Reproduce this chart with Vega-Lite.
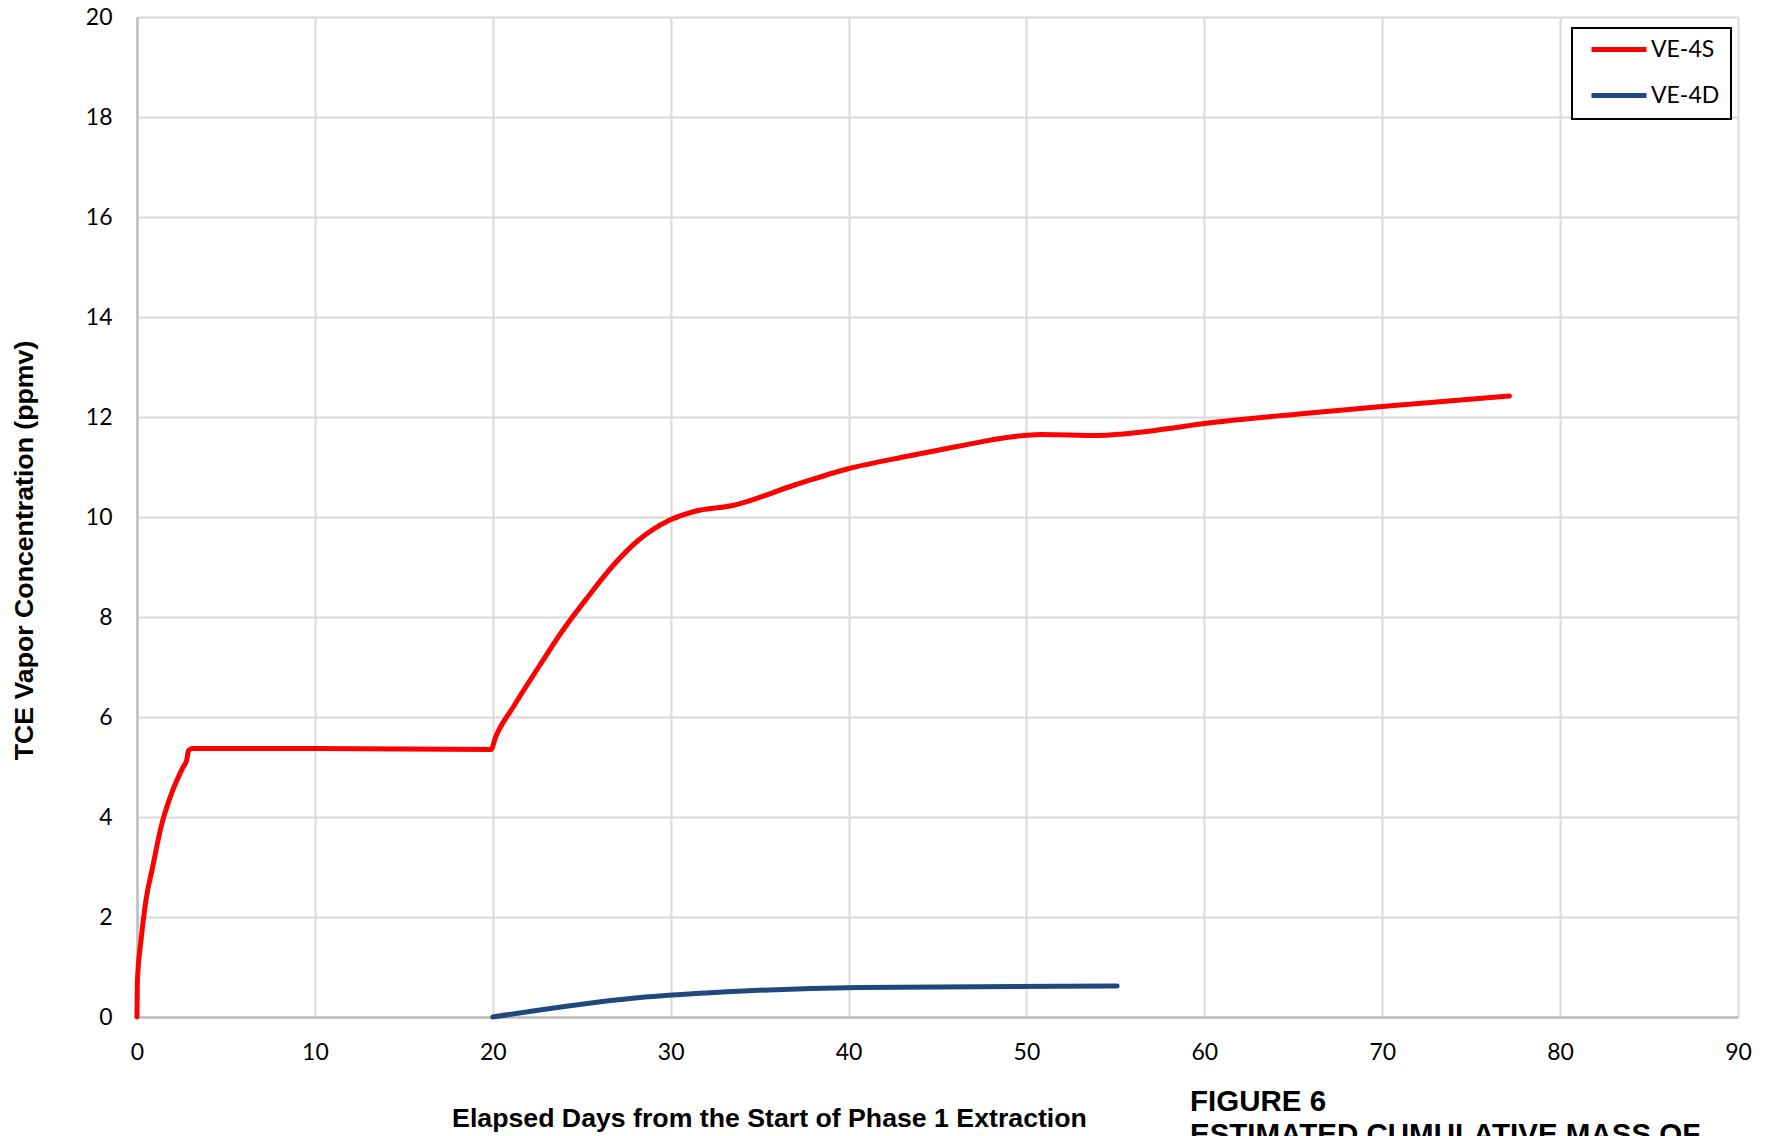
{
  "$schema": "https://vega.github.io/schema/vega-lite/v6.json",
  "width": 1601,
  "height": 1000,
  "autosize": {"type": "none"},
  "padding": {"left": 137, "top": 17, "right": 37, "bottom": 119},
  "background": "white",
  "title": {
    "text": ["FIGURE 6", "ESTIMATED CUMULATIVE MASS OF"],
    "orient": "bottom",
    "anchor": "start",
    "frame": "group",
    "dx": 1053,
    "offset": -44,
    "baseline": "top",
    "font": "Liberation Sans",
    "fontSize": 29.5,
    "fontWeight": "bold",
    "lineHeight": 33,
    "color": "black"
  },
  "data": {
    "values": [
      {"series": "VE-4S", "day": 0, "tce": 0},
      {"series": "VE-4S", "day": 0.02, "tce": 0.7},
      {"series": "VE-4S", "day": 0.23, "tce": 1.55},
      {"series": "VE-4S", "day": 0.5, "tce": 2.33},
      {"series": "VE-4S", "day": 0.88, "tce": 3.0},
      {"series": "VE-4S", "day": 1.35, "tce": 3.8},
      {"series": "VE-4S", "day": 1.9, "tce": 4.43},
      {"series": "VE-4S", "day": 2.55, "tce": 4.97},
      {"series": "VE-4S", "day": 2.8, "tce": 5.15},
      {"series": "VE-4S", "day": 2.9, "tce": 5.33},
      {"series": "VE-4S", "day": 3.1, "tce": 5.37},
      {"series": "VE-4S", "day": 10, "tce": 5.37},
      {"series": "VE-4S", "day": 19.9, "tce": 5.35},
      {"series": "VE-4S", "day": 20.15, "tce": 5.59},
      {"series": "VE-4S", "day": 21.15, "tce": 6.2},
      {"series": "VE-4S", "day": 22.58, "tce": 7.0},
      {"series": "VE-4S", "day": 23.87, "tce": 7.7},
      {"series": "VE-4S", "day": 25.3, "tce": 8.38},
      {"series": "VE-4S", "day": 26.74, "tce": 9.02},
      {"series": "VE-4S", "day": 28.17, "tce": 9.53},
      {"series": "VE-4S", "day": 29.9, "tce": 9.93},
      {"series": "VE-4S", "day": 31.33, "tce": 10.11},
      {"series": "VE-4S", "day": 33.48, "tce": 10.23},
      {"series": "VE-4S", "day": 37.06, "tce": 10.65},
      {"series": "VE-4S", "day": 39.93, "tce": 10.96},
      {"series": "VE-4S", "day": 43.37, "tce": 11.22},
      {"series": "VE-4S", "day": 46.24, "tce": 11.42},
      {"series": "VE-4S", "day": 49.1, "tce": 11.6},
      {"series": "VE-4S", "day": 50.83, "tce": 11.65},
      {"series": "VE-4S", "day": 54, "tce": 11.63},
      {"series": "VE-4S", "day": 55.4, "tce": 11.66},
      {"series": "VE-4S", "day": 57.8, "tce": 11.76},
      {"series": "VE-4S", "day": 60, "tce": 11.87},
      {"series": "VE-4S", "day": 65.3, "tce": 12.06},
      {"series": "VE-4S", "day": 70, "tce": 12.21},
      {"series": "VE-4S", "day": 77.15, "tce": 12.42},
      {"series": "VE-4D", "day": 20, "tce": 0},
      {"series": "VE-4D", "day": 28, "tce": 0.38},
      {"series": "VE-4D", "day": 34.1, "tce": 0.52},
      {"series": "VE-4D", "day": 40.6, "tce": 0.59},
      {"series": "VE-4D", "day": 55.1, "tce": 0.62}
    ]
  },
  "mark": {"type": "line", "strokeWidth": 5, "interpolate": "monotone", "strokeCap": "round", "strokeJoin": "round"},
  "encoding": {
    "x": {
      "field": "day",
      "type": "quantitative",
      "scale": {"domain": [0, 90], "nice": false, "zero": false},
      "axis": {
        "values": [0, 10, 20, 30, 40, 50, 60, 70, 80, 90],
        "title": "Elapsed Days from the Start of Phase 1 Extraction",
        "titleX": 632,
        "titleY": 109,
        "titleAlign": "center",
        "titleBaseline": "alphabetic",
        "labelPadding": 24,
        "labelFlush": false
      }
    },
    "y": {
      "field": "tce",
      "type": "quantitative",
      "scale": {"domain": [0, 20], "nice": false},
      "axis": {
        "values": [0, 2, 4, 6, 8, 10, 12, 14, 16, 18, 20],
        "title": "TCE Vapor Concentration (ppmv)",
        "titleX": -113,
        "titleY": 533,
        "titleAngle": -90,
        "titleAlign": "center",
        "titleBaseline": "middle",
        "labelPadding": 25,
        "labelFlush": false
      }
    },
    "color": {
      "field": "series",
      "type": "nominal",
      "scale": {"domain": ["VE-4S", "VE-4D"], "range": ["#FF0000", "#1F497D"]},
      "legend": {
        "title": null,
        "orient": "none",
        "legendX": 1435,
        "legendY": 11,
        "symbolType": "stroke",
        "symbolSize": 3025,
        "symbolStrokeWidth": 5,
        "symbolOffset": 6,
        "clipHeight": 21,
        "rowPadding": 22,
        "padding": 11,
        "labelOffset": 2,
        "labelFont": "Lato",
        "labelFontSize": 23,
        "labelColor": "black",
        "strokeColor": "black",
        "fillColor": "white"
      }
    }
  },
  "config": {
    "view": {"stroke": null},
    "legend": {"strokeWidth": 2},
    "axis": {
      "domainColor": "#BFBFBF",
      "domainWidth": 2.5,
      "gridColor": "#D9D9D9",
      "gridWidth": 2,
      "ticks": false,
      "labelFont": "Lato",
      "labelFontSize": 23,
      "labelColor": "black",
      "titleFont": "Liberation Sans",
      "titleFontSize": 26.7,
      "titleFontWeight": "bold",
      "titleColor": "black"
    }
  }
}
